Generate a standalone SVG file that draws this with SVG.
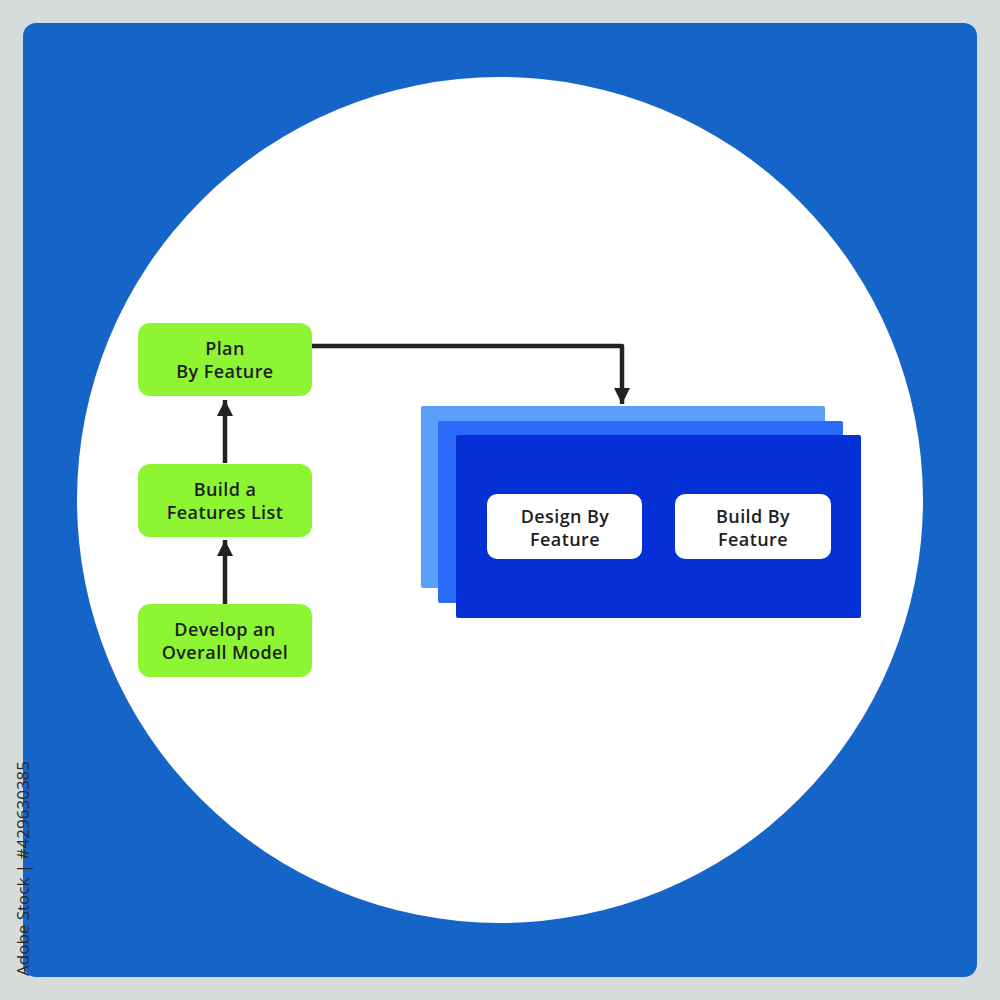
<svg xmlns="http://www.w3.org/2000/svg" width="1000" height="1000" viewBox="0 0 1000 1000">
<defs>
<style>
.green{fill:#8ef533}
.white{fill:#ffffff}
.lbl{font-family:"Open Sans","Liberation Sans",sans-serif;font-weight:600;font-size:18px;letter-spacing:0.4px;fill:#1e1e1e;text-anchor:middle}
.conn{fill:none;stroke:#222222;stroke-width:4.5;stroke-linejoin:round}
</style>
<marker id="ah" viewBox="0 0 10 10" refX="10" refY="5" markerWidth="16" markerHeight="16" markerUnits="userSpaceOnUse" orient="auto">
<path d="M0,0 L10,5 L0,10 Z" fill="#222222"/>
</marker>
</defs>
<rect x="0" y="0" width="1000" height="1000" fill="#d5dcdb"/>
<rect x="23" y="23" width="954" height="954" rx="13" fill="#1565c8"/>
<circle cx="500" cy="500" r="423" fill="#ffffff"/>
<text transform="translate(29,976) rotate(-90)" font-family="Open Sans, Liberation Sans, sans-serif" font-size="17" fill="#2a2a2a">Adobe Stock | #429630385</text>

<g id="stack">
<rect x="421" y="406" width="404" height="182" rx="2" fill="#5aa0fb"/>
<rect x="438" y="421" width="405" height="182" rx="2" fill="#2a6bf9"/>
<rect x="456" y="435" width="405" height="183" rx="2" fill="#0530d6"/>
</g>

<g id="connectors">
<path class="conn" d="M225,463 L225,400" marker-end="url(#ah)"/>
<path class="conn" d="M225,604 L225,540" marker-end="url(#ah)"/>
<path class="conn" d="M312,346 L622,346 L622,404" marker-end="url(#ah)"/>
</g>

<g id="plan">
<rect class="green" x="138" y="323" width="174" height="73" rx="12"/>
<text class="lbl" x="225" y="355">Plan</text>
<text class="lbl" x="225" y="378">By Feature</text>
</g>
<g id="build-list">
<rect class="green" x="138" y="464" width="174" height="73" rx="12"/>
<text class="lbl" x="225" y="496">Build a</text>
<text class="lbl" x="225" y="519">Features List</text>
</g>
<g id="develop">
<rect class="green" x="138" y="604" width="174" height="73" rx="12"/>
<text class="lbl" x="225" y="636">Develop an</text>
<text class="lbl" x="225" y="659">Overall Model</text>
</g>
<g id="design">
<rect class="white" x="487" y="494" width="155" height="65" rx="10"/>
<text class="lbl" x="565" y="523">Design By</text>
<text class="lbl" x="565" y="546">Feature</text>
</g>
<g id="build-feature">
<rect class="white" x="675" y="494" width="156" height="65" rx="10"/>
<text class="lbl" x="753" y="523">Build By</text>
<text class="lbl" x="753" y="546">Feature</text>
</g>
</svg>
